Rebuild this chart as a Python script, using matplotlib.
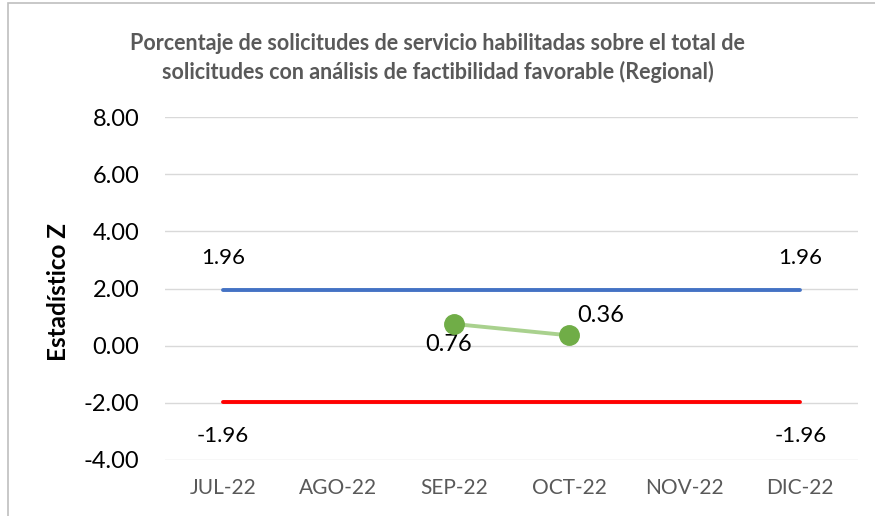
import matplotlib

matplotlib.use("Agg")
import matplotlib.pyplot as plt
from matplotlib.patches import Rectangle

months = ["JUL-22", "AGO-22", "SEP-22", "OCT-22", "NOV-22", "DIC-22"]
upper = [1.96, 1.96, 1.96, 1.96, 1.96, 1.96]
lower = [-1.96, -1.96, -1.96, -1.96, -1.96, -1.96]
z_idx = [2, 3]
z_vals = [0.76, 0.36]
y_ticks = [-4, -2, 0, 2, 4, 6, 8]

plt.rcParams["font.family"] = ["Lato", "DejaVu Sans"]

W, H = 875, 516
fig = plt.figure(figsize=(W / 100, H / 100), dpi=100)
ax = fig.add_axes([165 / W, 1 - 460 / H, (858 - 165) / W, (460 - 117) / H])

# chart frame (only left/top edges are visible in the crop)
fig.patches.append(Rectangle((8 / W, -0.1), 1.2, (1 - 3 / H) + 0.1,
                             transform=fig.transFigure, fill=False,
                             edgecolor="#BFBFBF", lw=1.2))

x = list(range(len(months)))
ax.plot(x, upper, color="#4472C4", lw=2.8, solid_capstyle="round", zorder=3)
ax.plot(x, lower, color="#FF0000", lw=2.8, solid_capstyle="round", zorder=3)
ax.plot(z_idx, z_vals, color="#A9D18E", lw=2.8, marker="o", ms=14,
        mfc="#70AD47", mec="#70AD47", zorder=4)

for i in (0, 5):
    ax.annotate(f"{upper[i]:.2f}", (i, upper[i]), xytext=(0, 23),
                textcoords="offset points", ha="center", va="center", fontsize=16)
    ax.annotate(f"{lower[i]:.2f}", (i, lower[i]), xytext=(0, -24.5),
                textcoords="offset points", ha="center", va="center", fontsize=16)
ax.annotate(f"{z_vals[0]:.2f}", (z_idx[0], z_vals[0]), xytext=(-4, -15),
            textcoords="offset points", ha="center", va="center", fontsize=17)
ax.annotate(f"{z_vals[1]:.2f}", (z_idx[1], z_vals[1]), xytext=(23, 14),
            textcoords="offset points", ha="center", va="center", fontsize=17)

ax.set_xlim(-0.5, 5.5)
ax.set_ylim(-4, 8)
ax.set_yticks(y_ticks)
ax.set_yticklabels([f"{v:.2f}" for v in y_ticks], fontsize=17)
ax.set_xticks(x)
ax.set_xticklabels(months, fontsize=15, color="#595959")
ax.tick_params(length=0)
ax.tick_params(axis="x", pad=13)
ax.tick_params(axis="y", pad=18.5)
ax.grid(axis="y", color="#D9D9D9", lw=1)
ax.set_axisbelow(True)
for s in ax.spines.values():
    s.set_visible(False)
ax.set_ylabel("Estadístico Z", fontsize=17.5, fontweight="bold")
ax.yaxis.set_label_coords((70 - 165) / 693, 0.49)

fig.text(0.5, 1 - 58 / H,
         "Porcentaje de solicitudes de servicio habilitadas sobre el total de\n"
         "solicitudes con análisis de factibilidad favorable (Regional)",
         ha="center", va="center", fontsize=15.5, fontweight="bold",
         color="#595959", linespacing=1.35)

fig.savefig("out.png", dpi=100)
